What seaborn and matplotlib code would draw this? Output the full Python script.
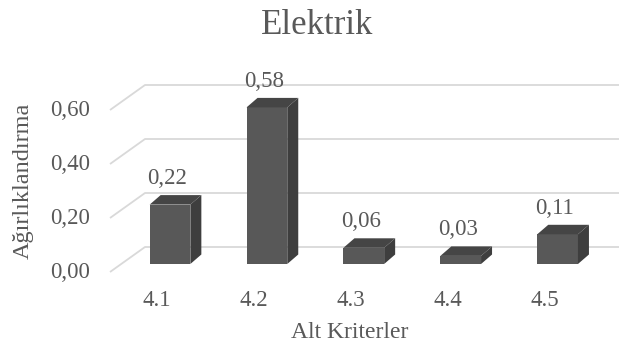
import matplotlib
matplotlib.use("Agg")
import matplotlib.pyplot as plt
from matplotlib.patches import Polygon
import seaborn as sns
import pandas as pd

# Data
categories = ["4.1", "4.2", "4.3", "4.4", "4.5"]
weights = [0.22, 0.58, 0.06, 0.03, 0.11]
y_ticks = [0.0, 0.2, 0.4, 0.6]
title = "Elektrik"
x_title = "Alt Kriterler"
y_title = "Ağırlıklandırma"

sns.set_theme(style="white")
plt.rcParams["font.family"] = ["Liberation Serif", "DejaVu Serif"]

TEXT = "#595959"
FRONT = "#585858"
SIDE = "#3e3e3e"
TOP = "#454545"
GRID = "#d9d9d9"

W, H, DPI = 619, 351, 100
fig = plt.figure(figsize=(W / DPI, H / DPI), dpi=DPI)
ax = fig.add_axes([0, 0, 1, 1])

df = pd.DataFrame({"cat": categories, "w": weights})
sns.barplot(data=df, x="cat", y="w", color=FRONT, saturation=1, width=0.42,
            ax=ax, zorder=3, linewidth=0)

# pixel-to-data mapping: category spacing and value scale
PX_X = 96.9      # pixels per category
PX_Y = 270.0     # pixels per unit value
X0, Y0 = 170.0, 264.0   # pixel position of category 0 / value 0 (front plane)
ax.set_xlim(-X0 / PX_X, (W - X0) / PX_X)
ax.set_ylim((Y0 - H) / PX_Y, Y0 / PX_Y)
ax.axis("off")

# back wall gridlines with perspective floor edge
back_dy = 17 / PX_Y
front_dy = -8 / PX_Y
x_front = (110 - X0) / PX_X
x_back = (145 - X0) / PX_X
x_right = (W - X0) / PX_X
for v in y_ticks:
    ax.plot([x_front, x_back, x_right], [v + front_dy, v + back_dy, v + back_dy],
            color=GRID, lw=1.3, zorder=1, solid_capstyle="butt")
    ax.text((90 - X0) / PX_X, v + front_dy, f"{v:.2f}".replace(".", ","),
            ha="right", va="center", fontsize=16.5, color=TEXT)

# depth faces for each bar
ddx = 11 / PX_X
ddy = 9.5 / PX_Y
for p in ax.patches[:len(weights)]:
    x, w, h = p.get_x(), p.get_width(), p.get_height()
    side = Polygon([(x + w, 0), (x + w + ddx, ddy), (x + w + ddx, h + ddy), (x + w, h)],
                   closed=True, facecolor=SIDE, edgecolor="none", zorder=3)
    top = Polygon([(x, h), (x + ddx, h + ddy), (x + w + ddx, h + ddy), (x + w, h)],
                  closed=True, facecolor=TOP, edgecolor="none", zorder=3)
    ax.add_patch(side)
    ax.add_patch(top)
    ax.text(x + w / 2 - 3 / PX_X, h + 26 / PX_Y, f"{h:.2f}".replace(".", ","),
            ha="center", va="center", fontsize=16.5, color=TEXT, zorder=4)

# category labels
for i, c in enumerate(categories):
    ax.text(i - 13 / PX_X, (Y0 - 300) / PX_Y, c, ha="center", va="center",
            fontsize=16.5, color=TEXT)

fig.text(350 / W, 1 - 333 / H, x_title, ha="center", va="center",
         fontsize=17, color=TEXT)
fig.text(23 / W, 1 - 181 / H, y_title, ha="center", va="center",
         rotation=90, fontsize=17.5, color=TEXT)
fig.text(317 / W, 1 - 26 / H, title, ha="center", va="center",
         fontsize=25, color=TEXT)

fig.savefig("out.png", dpi=DPI)
